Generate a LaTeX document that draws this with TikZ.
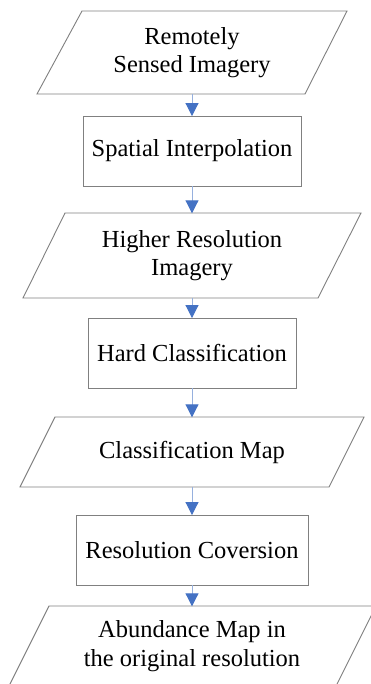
\documentclass[tikz,border=0pt]{standalone}
\usepackage{fontspec}
\setmainfont{Liberation Serif}
\usetikzlibrary{arrows.meta}
\definecolor{shapegray}{RGB}{128,128,128}
\definecolor{arrowblue}{RGB}{68,114,196}
\definecolor{shaftblue}{RGB}{150,176,222}
\tikzset{
  shapeline/.style={draw=shapegray, line width=0.9pt},
  txt/.style={inner sep=0pt, align=center, font=\fontsize{24.5}{28.5}\selectfont},
  procbox/.style={shapeline, txt, minimum height=70pt},
  conn/.style={draw=shaftblue, line width=1pt,
    -{Triangle[width=13pt,length=13pt,fill=arrowblue,color=arrowblue]}, shorten >=-0.5pt}
}
\begin{document}
\begin{tikzpicture}[x=1pt,y=1pt]
\useasboundingbox (0,0) rectangle (371,684);
\clip (0,0) rectangle (371,684);
\fill[white] (0,0) rectangle (371,684);

% parallelogram outlines
\draw[shapeline] (82,673) -- (347,673) -- (305,590) -- (37,590) -- cycle;
\draw[shapeline] (65,471) -- (361,471) -- (318,386) -- (23,386) -- cycle;
\draw[shapeline] (55,267) -- (364,267) -- (329,197) -- (20,197) -- cycle;
\draw[shapeline] (49,78) -- (376,78) -- (336,-2) -- (9,-2) -- cycle;

% text nodes
\node[txt, minimum height=83pt] (p1) at (192,631.5) {Remotely\\Sensed Imagery};
\node[procbox, minimum width=218pt] (b1) at (192,533) {Spatial Interpolation};
\node[txt, minimum height=85pt] (p2) at (192,428.5) {Higher Resolution\\Imagery};
\node[procbox, minimum width=208pt] (b2) at (192,331) {Hard Classification};
\node[txt, minimum height=70pt] (p3) at (192,232) {Classification Map};
\node[procbox, minimum width=232pt] (b3) at (192,134) {Resolution Coversion};
\node[txt, minimum height=80pt] (p4) at (192,38) {Abundance Map in\\the original resolution};

% connectors
\draw[conn] (p1.south) -- (b1.north);
\draw[conn] (b1.south) -- (p2.north);
\draw[conn] (p2.south) -- (b2.north);
\draw[conn] (b2.south) -- (p3.north);
\draw[conn] (p3.south) -- (b3.north);
\draw[conn] (b3.south) -- (p4.north);
\end{tikzpicture}
\end{document}
